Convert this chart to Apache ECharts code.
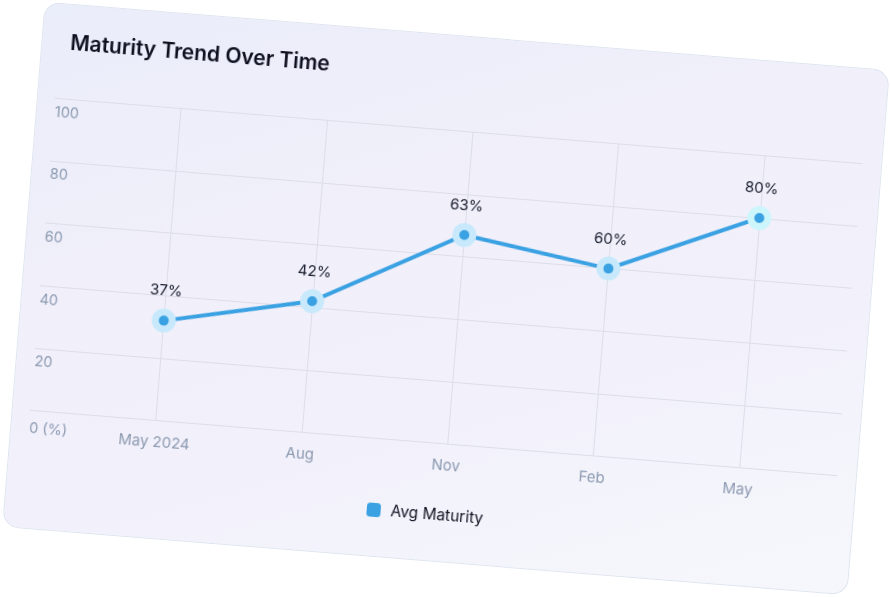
<!DOCTYPE html>
<html>
<head>
<meta charset="utf-8">
<script src="https://cdn.jsdelivr.net/npm/echarts@6/dist/echarts.min.js"></script>
<style>
html,body{margin:0;padding:0;background:#ffffff;width:891px;height:597px;overflow:hidden;}
#card{position:absolute;left:21.5px;top:35px;width:848px;height:527px;box-sizing:border-box;
  border:1px solid #dfe5f0;border-radius:16px;
  background:linear-gradient(160deg,#eaedfa 0%,#f0effa 35%,#f2f1fb 65%,#f6f7fc 100%);
  transform:rotate(4.63deg);transform-origin:50% 50%;overflow:hidden;}
#chart{position:absolute;left:-1px;top:-1px;width:848px;height:527px;}
</style>
</head>
<body>
<div id="card"><div id="chart"></div></div>
<script>
const categories = ['May 2024', 'Aug', 'Nov', 'Feb', 'May'];
const avgMaturity = [32, 42, 67, 60, 80];
const pointLabels = ['37%', '42%', '63%', '60%', '80%'];
const yTicks = [0, 20, 40, 60, 80, 100];
const seriesName = 'Avg Maturity';
const titleText = 'Maturity Trend Over Time';

const FONT = 'Inter';
const chart = echarts.init(document.getElementById('chart'), null, {renderer: 'canvas'});
const gridTop = 95.3, gridBottom = 527 - 408.6;
chart.setOption({
  animation: false,
  backgroundColor: 'transparent',
  textStyle: {fontFamily: FONT},
  title: {
    text: titleText, left: 29, top: 28, padding: 0,
    textStyle: {fontFamily: FONT, fontSize: 21, fontWeight: 600, color: '#0e1020', lineHeight: 24}
  },
  legend: {
    left: 362, top: 472, itemWidth: 14, itemHeight: 14, padding: 0,
    data: [{name: seriesName, icon: 'roundRect', itemStyle: {color: '#3aa1e2', borderWidth: 0}}],
    textStyle: {fontFamily: FONT, fontSize: 15.5, color: '#111322', padding: [3, 0, 0, 5]}
  },
  grid: [
    {left: 18, right: 20, top: gridTop, bottom: gridBottom},
    {left: 144.5, right: 118.2, top: gridTop, bottom: gridBottom}
  ],
  xAxis: [
    {type: 'value', gridIndex: 0, show: false, min: 0, max: 1},
    {type: 'category', gridIndex: 1, data: categories, boundaryGap: false,
     axisLine: {show: false}, axisTick: {show: false},
     splitLine: {show: true, lineStyle: {color: '#dcdde8', width: 1}},
     axisLabel: {margin: 13, fontFamily: FONT, fontSize: 15, color: '#8c9ab0', lineHeight: 17}}
  ],
  yAxis: [
    {type: 'value', gridIndex: 0, min: yTicks[0], max: yTicks[yTicks.length - 1], interval: 20,
     axisLine: {show: false}, axisTick: {show: false},
     splitLine: {show: true, lineStyle: {color: '#dcdde8', width: 1}},
     axisLabel: {inside: true, margin: 1, align: 'left', verticalAlign: 'top',
       fontFamily: FONT, fontSize: 14.5, color: '#8c9ab0', lineHeight: 14, padding: [7, 0, 0, 0],
       formatter: v => v === 0 ? '{z|0 (%)}' : String(v),
       rich: {z: {fontFamily: FONT, fontSize: 14.5, color: '#8c9ab0', lineHeight: 14, padding: [9, 0, 0, 0]}}}},
    {type: 'value', gridIndex: 1, min: 0, max: 100, show: false, splitLine: {show: false}}
  ],
  series: [{
    name: seriesName, type: 'line', xAxisIndex: 1, yAxisIndex: 1,
    data: avgMaturity.map((v, i) => i === avgMaturity.length - 1
      ? {value: v, itemStyle: {borderColor: '#cdf5fc'}} : v),
    lineStyle: {color: '#3aa1e2', width: 4},
    symbol: 'circle', symbolSize: 17,
    itemStyle: {color: '#3aa1e2', borderColor: '#c8e9fb', borderWidth: 7},
    label: {show: true, position: 'top', distance: 10,
      formatter: p => pointLabels[p.dataIndex],
      fontFamily: FONT, fontSize: 15, color: '#161a2b'},
    z: 5
  }]
});
</script>
</body>
</html>
